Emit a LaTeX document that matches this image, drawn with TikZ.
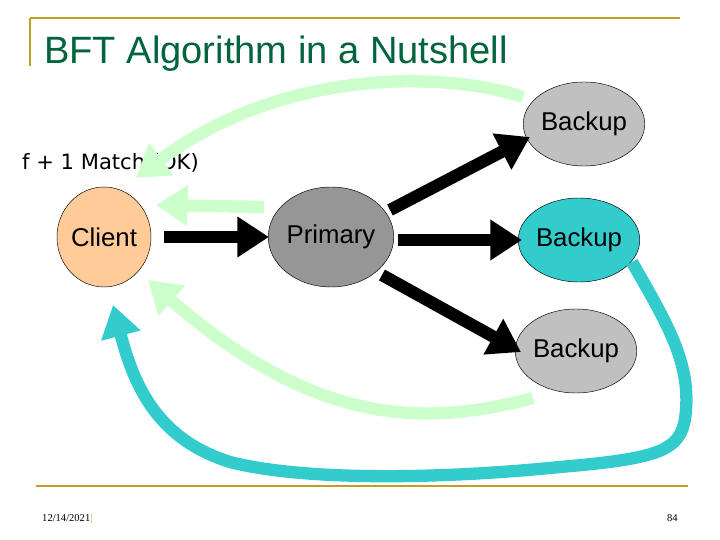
\documentclass[tikz,border=0pt]{standalone}
\usepackage{fontspec}
\setmainfont{Liberation Sans}
\newfontfamily\dejavu{DejaVu Sans}
\newfontfamily\serifd{Liberation Serif}
\usetikzlibrary{arrows.meta}
\definecolor{gold}{RGB}{190,160,40}
\definecolor{titlegreen}{RGB}{0,100,60}
\definecolor{peach}{RGB}{255,204,153}
\definecolor{midgray}{RGB}{150,150,150}
\definecolor{silver}{RGB}{192,192,192}
\definecolor{tealc}{RGB}{51,204,204}
\definecolor{lightgreen}{RGB}{204,255,204}
\tikzset{
  proc/.style={draw=black, thin, ellipse, inner sep=0pt, font=\fontsize{22}{24}\selectfont},
  fat/.style={line width=10.5pt, -{Triangle[width=33pt,length=27pt]}},
}
\usetikzlibrary{shapes.geometric}
\begin{document}
\begin{tikzpicture}[x=0.03cm,y=-0.03cm]
\useasboundingbox (0,0) rectangle (720,540);
\fill[white] (0,0) rectangle (720,540);
% frame lines
\draw[gold, line width=2.5pt] (30,18) -- (680,18);
\draw[gold, line width=2.5pt] (30,18) -- (30,66);
\draw[gold, line width=2.5pt] (36,486) -- (688,486);
\node[anchor=base west, text=titlegreen, font=\fontsize{32.5}{36}\selectfont, inner sep=0pt] (title) at (44,64) {BFT Algorithm in a Nutshell};
\node[anchor=base west, font=\dejavu\fontsize{18}{22}\selectfont, inner sep=0pt] (lab) at (22,170) {f + 1 Match (OK)};
% nodes
\node[proc, fill=peach, minimum width=94*0.03cm, minimum height=100*0.03cm] (client) at (104,237) {Client};
\node[proc, fill=midgray, minimum width=106*0.03cm, minimum height=100*0.03cm] (primary) at (331,237) {Primary};
\node[proc, fill=silver, minimum width=102*0.03cm, minimum height=84*0.03cm] (b1) at (584,124) {Backup};
\node[proc, fill=tealc, minimum width=102*0.03cm, minimum height=84*0.03cm] (b2) at (579,240) {Backup};
\node[proc, fill=silver, minimum width=102*0.03cm, minimum height=84*0.03cm] (b3) at (576,351) {Backup};
% light green replies
\coordinate (g1s) at (523,97);
\coordinate (g1e) at (136,178);
\draw[lightgreen, fat] (g1s) .. controls (440,70) and (280,70) .. (g1e);
\coordinate (g2s) at (264,207);
\coordinate (g2e) at (156,205);
\draw[lightgreen, fat] (g2s) -- (g2e);
\coordinate (g3s) at (533,398);
\coordinate (g3e) at (148,280);
\draw[lightgreen, fat] (g3s) .. controls (430,425) and (320,430) .. (g3e);
% teal reply
\coordinate (t1s) at (632,262);
\coordinate (t1e) at (113,305);
\draw[tealc, fat] (t1s) .. controls (665,320) and (690,360) .. (686,410)
  .. controls (683,450) and (665,458) .. (560,467)
  .. controls (430,480) and (300,480) .. (230,462)
  .. controls (160,440) and (135,390) .. (t1e);
% black requests
\draw[black, fat] (164,237) -- (269,237);
\draw[black, fat] (398,240) -- (522,240);
\draw[black, fat] (390,210) -- (530,137);
\draw[black, fat] (382,275) -- (521,352);
% footer
\node[anchor=base west, font=\serifd\fontsize{9}{10}\selectfont, inner sep=0pt] (date) at (42,521) {12/14/2021\textcolor{gold}{|}};
\node[anchor=base east, font=\serifd\fontsize{9}{10}\selectfont, inner sep=0pt] (pg) at (678,521) {84};
\end{tikzpicture}
\end{document}
